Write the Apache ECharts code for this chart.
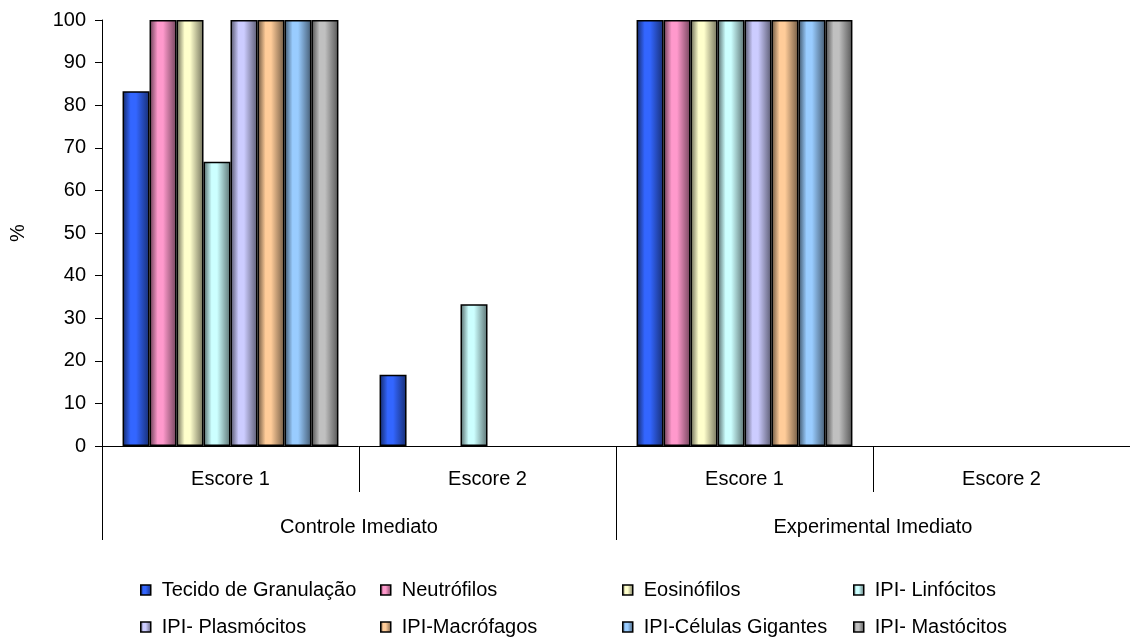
<!DOCTYPE html>
<html>
<head>
<meta charset="utf-8">
<script src="https://cdn.jsdelivr.net/npm/echarts@6/dist/echarts.min.js"></script>
<style>
  html, body { margin: 0; padding: 0; background: #fff; }
  #chart { width: 1130px; height: 639px; }
</style>
</head>
<body>
<div id="chart"></div>
<script>
const categories = ["Escore 1", "Escore 2", "Escore 1", "Escore 2"];
const groups = ["Controle Imediato", "Experimental Imediato"];
const yTicks = { min: 0, max: 100, interval: 10 };

const seriesNames = [
  "Tecido de Granulação",
  "Neutrófilos",
  "Eosinófilos",
  "IPI- Linfócitos",
  "IPI- Plasmócitos",
  "IPI-Macrófagos",
  "IPI-Células Gigantes",
  "IPI- Mastócitos",
];

const tecido = [83.3, 16.7, 100, 0];
const neutrofilos = [100, 0, 100, 0];
const eosinofilos = [100, 0, 100, 0];
const linfocitos = [66.7, 33.3, 100, 0];
const plasmocitos = [100, 0, 100, 0];
const macrofagos = [100, 0, 100, 0];
const gigantes = [100, 0, 100, 0];
const mastocitos = [100, 0, 100, 0];
const values = [tecido, neutrofilos, eosinofilos, linfocitos, plasmocitos, macrofagos, gigantes, mastocitos];

const colors = ["#3366ff", "#ff99cc", "#ffffcc", "#ccffff", "#ccccff", "#ffcc99", "#99ccff", "#c0c0c0"];

// legend slots: [left of icon, top]
const legendSlots = [
  [140, 580], [380, 580], [622, 580], [853, 580],
  [140, 617], [380, 617], [622, 617], [853, 617],
];

const font = "Liberation Sans, Arial, sans-serif";
const fs = 20;

function shade(hex, f) {
  const n = parseInt(hex.slice(1), 16);
  const r = Math.round(((n >> 16) & 255) * f);
  const g = Math.round(((n >> 8) & 255) * f);
  const b = Math.round((n & 255) * f);
  return `rgb(${r},${g},${b})`;
}

function fill(hex) {
  return new echarts.graphic.LinearGradient(0, 0, 1, 0, [
    { offset: 0, color: shade(hex, 0.4) },
    { offset: 0.3, color: hex },
    { offset: 0.5, color: hex },
    { offset: 1, color: shade(hex, 0.45) },
  ]);
}

const chart = echarts.init(document.getElementById("chart"));

chart.setOption({
  animation: false,
  backgroundColor: "#fff",
  textStyle: { fontFamily: font },
  grid: { left: 97, top: 20, width: 1042, height: 426, containLabel: false },
  legend: seriesNames.map((name, i) => ({
    data: [name],
    left: legendSlots[i][0],
    top: legendSlots[i][1],
    icon: "rect",
    itemWidth: 10,
    itemHeight: 10,
    selectedMode: false,
    padding: 0,
    itemStyle: { borderColor: "#000", borderWidth: 1.5 },
    textStyle: { fontSize: fs, color: "#000", fontFamily: font, padding: [0, 0, 0, 6] },
  })),
  xAxis: [
    {
      type: "category",
      data: categories,
      position: "bottom",
      axisLine: { lineStyle: { color: "#000", width: 1 } },
      axisTick: { show: true, length: 46, interval: 0, lineStyle: { color: "#000" } },
      axisLabel: { fontSize: fs, color: "#000", margin: 23, interval: 0, fontFamily: font },
      splitLine: { show: false },
    },
    {
      type: "category",
      data: groups,
      position: "bottom",
      axisLine: { show: false },
      axisTick: { show: true, length: 94, interval: 0, lineStyle: { color: "#000" } },
      axisLabel: { fontSize: fs, color: "#000", margin: 71, interval: 0, fontFamily: font },
      splitLine: { show: false },
    },
  ],
  yAxis: {
    type: "value",
    min: yTicks.min,
    max: yTicks.max,
    interval: yTicks.interval,
    name: "%",
    nameLocation: "middle",
    nameGap: 74,
    nameRotate: 90,
    nameTextStyle: { fontSize: fs, color: "#000", fontFamily: font },
    axisLine: { show: true, lineStyle: { color: "#000", width: 1 } },
    axisTick: { show: true, length: 7, lineStyle: { color: "#000" } },
    axisLabel: { fontSize: fs, color: "#000", margin: 16, fontFamily: font },
    splitLine: { show: false },
  },
  series: seriesNames.map((name, i) => ({
    name,
    type: "bar",
    xAxisIndex: 0,
    data: values[i].map((v) => (v > 0 ? v : { value: v, itemStyle: { borderWidth: 0 } })),
    barGap: "0%",
    barCategoryGap: "16%",
    itemStyle: { color: fill(colors[i]), borderColor: "#000", borderWidth: 1.5 },
  })),
});
</script>
</body>
</html>
